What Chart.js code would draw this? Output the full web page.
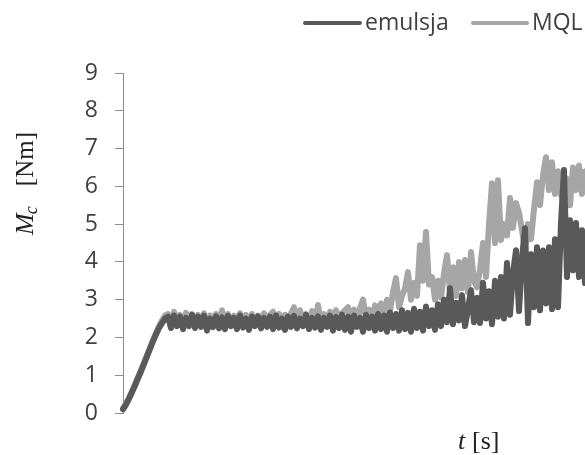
<!DOCTYPE html>
<html>
<head>
<meta charset="utf-8">
<script src="https://cdn.jsdelivr.net/npm/chart.js@4/dist/chart.umd.min.js"></script>
<style>
    html, body { margin: 0; padding: 0; background: #ffffff; }
    #grafico { display: block; }
</style>
</head>
<body>
<canvas id="grafico" width="585" height="455"></canvas>
<script>

// torque values, one sample every ~3 px of the plot
const emulsja = [
    0.1, 0.22, 0.38, 0.55, 0.73, 0.92, 1.1, 1.3, 1.5, 1.7,
    1.9, 2.08, 2.25, 2.38, 2.5,
    2.55, 2.25, 2.58, 2.3, 2.55, 2.22, 2.52, 2.3, 2.6, 2.25,
    2.55, 2.28, 2.58, 2.18, 2.5, 2.27, 2.56, 2.24, 2.53, 2.22,
    2.57, 2.3, 2.52, 2.22, 2.58, 2.26, 2.5, 2.2, 2.55, 2.3,
    2.56, 2.24, 2.52, 2.28, 2.55, 2.22, 2.58, 2.26, 2.5, 2.2,
    2.55, 2.28, 2.57, 2.24, 2.5, 2.3, 2.6, 2.22, 2.52, 2.26,
    2.56, 2.2, 2.52, 2.28, 2.58, 2.18, 2.54, 2.25, 2.6, 2.2,
    2.55, 2.15, 2.58, 2.28, 2.52, 2.15, 2.6, 2.25, 2.55, 2.18,
    2.62, 2.22, 2.58, 2.15, 2.66, 2.25, 2.62, 2.18, 2.72, 2.22,
    2.65, 2.15, 2.76, 2.25, 2.68, 2.18, 2.82, 2.3, 2.72, 2.2,
    2.88, 2.3, 3.0, 2.4, 3.3, 2.35, 2.92, 2.45, 3.12, 2.3,
    2.75, 3.25, 2.4, 3.05, 2.38, 3.45, 2.5, 3.22, 2.35, 3.5,
    2.55, 3.6, 2.5, 3.97, 2.6, 3.7, 4.31, 2.7, 4.1, 4.89,
    2.38, 4.2, 2.8, 4.39, 2.72, 4.3, 2.9, 4.39, 2.75, 4.6,
    2.8, 5.03, 6.43, 3.6, 5.1, 3.78, 5.03, 3.6, 4.84, 3.44
];

const mql = [
    0.12, 0.25, 0.4, 0.58, 0.76, 0.95, 1.14, 1.33, 1.53, 1.73,
    1.93, 2.12, 2.3, 2.45, 2.58,
    2.62, 2.3, 2.68, 2.35, 2.6, 2.28, 2.65, 2.35, 2.62, 2.3,
    2.6, 2.32, 2.64, 2.25, 2.58, 2.3, 2.62, 2.28, 2.72, 2.3,
    2.62, 2.32, 2.58, 2.25, 2.64, 2.3, 2.6, 2.26, 2.62, 2.35,
    2.58, 2.3, 2.64, 2.32, 2.6, 2.68, 2.3, 2.62, 2.28, 2.6,
    2.3, 2.64, 2.8, 2.3, 2.72, 2.35, 2.62, 2.3, 2.7, 2.35,
    2.86, 2.35, 2.62, 2.3, 2.68, 2.4, 2.72, 2.35, 2.65, 2.72,
    2.8, 2.4, 2.74, 2.35, 2.78, 3.0, 2.5, 2.74, 2.45, 2.85,
    2.6, 2.9, 2.55, 3.0, 2.7, 3.2, 3.57, 2.8, 3.1, 3.3,
    3.73, 3.0, 3.45, 3.1, 4.44, 3.5, 4.79, 3.4, 3.6, 3.0,
    3.5, 3.05, 3.7, 4.18, 3.2, 3.86, 3.1, 4.0, 3.3, 4.05,
    3.2, 4.26, 3.5, 3.33, 3.8, 4.5, 3.6, 5.0, 6.08, 4.5,
    6.16, 4.58, 5.0, 4.7, 5.69, 4.9, 5.56, 5.3, 4.84, 4.3,
    5.0, 4.6, 5.4, 6.11, 5.5, 6.3, 6.77, 5.9, 6.64, 5.8,
    6.4, 5.77, 5.6, 6.2, 5.5, 6.5, 5.9, 6.55, 5.8, 6.4
];

const series = ["emulsja", "MQL"];
const ticksY = [0, 1, 2, 3, 4, 5, 6, 7, 8, 9];

const colorOscuro = "#595959";
const colorClaro = "#a6a6a6";
const fuenteSans = "'Open Sans', sans-serif";
const fuenteSerif = "'Liberation Serif', 'Times New Roman', serif";

// x axis has no labels, samples are just numbered
const muestras = emulsja.map(function (v, i) { return i; });

// legend and axis titles drawn by hand (italic symbols, fixed spots)
const textosExtra = {
    id: "textosExtra",
    afterDraw: function (chart) {
        const ctx = chart.ctx;
        ctx.save();

        // legend
        const items = [
            { texto: series[0], color: colorOscuro, x1: 305, x2: 360, tx: 365 },
            { texto: series[1], color: colorClaro, x1: 473, x2: 527, tx: 532 }
        ];
        ctx.lineCap = "round";
        ctx.lineWidth = 4;
        ctx.font = "23px " + fuenteSans;
        ctx.textBaseline = "alphabetic";
        ctx.textAlign = "left";
        items.forEach(function (it) {
            ctx.strokeStyle = it.color;
            ctx.beginPath();
            ctx.moveTo(it.x1, 23);
            ctx.lineTo(it.x2, 23);
            ctx.stroke();
            ctx.fillStyle = "#404040";
            ctx.fillText(it.texto, it.tx, 30);
        });

        // y title: M_c [Nm]
        ctx.fillStyle = "#222222";
        ctx.translate(33, 235);
        ctx.rotate(-Math.PI / 2);
        ctx.font = "italic 26px " + fuenteSerif;
        ctx.fillText("M", 0, 0);
        let w = ctx.measureText("M").width;
        ctx.font = "italic 18px " + fuenteSerif;
        ctx.fillText("c", w - 1, 4);
        ctx.font = "25px " + fuenteSerif;
        ctx.textAlign = "right";
        ctx.fillText("[Nm]", 103, 0);
        ctx.setTransform(1, 0, 0, 1, 0, 0);

        // x title: t [s]
        ctx.textAlign = "left";
        ctx.font = "italic 26px " + fuenteSerif;
        ctx.fillText("t", 458, 449);
        ctx.font = "26px " + fuenteSerif;
        ctx.fillText("[s]", 472, 449);

        ctx.restore();
    }
};

new Chart(document.getElementById("grafico"), {
    type: "line",
    plugins: [textosExtra],
    data: {
        labels: muestras,
        datasets: [
            {
                label: series[0],
                data: emulsja,
                borderColor: colorOscuro,
                borderWidth: 6,
                pointRadius: 0,
                tension: 0,
                borderJoinStyle: "round",
                borderCapStyle: "round"
            },
            {
                label: series[1],
                data: mql,
                borderColor: colorClaro,
                borderWidth: 6,
                pointRadius: 0,
                tension: 0,
                borderJoinStyle: "round",
                borderCapStyle: "round"
            }
        ]
    },
    options: {
        responsive: false,
        animation: false,
        devicePixelRatio: 1,
        layout: {
            padding: { top: 73, right: 0, bottom: 42, left: 0 }
        },
        plugins: {
            legend: { display: false },
            tooltip: { enabled: false }
        },
        scales: {
            x: {
                display: false,
                offset: false
            },
            y: {
                min: ticksY[0],
                max: ticksY[ticksY.length - 1],
                afterFit: function (scale) { scale.width = 123; },
                afterBuildTicks: function (scale) {
                    scale.ticks = ticksY.map(function (v) { return { value: v }; });
                },
                border: { display: true, color: "#8c8c8c", width: 1 },
                grid: {
                    drawOnChartArea: false,
                    drawTicks: true,
                    tickLength: 8,
                    color: "#8c8c8c"
                },
                ticks: {
                    padding: 17,
                    color: "#404040",
                    font: { family: fuenteSans, size: 23 }
                }
            }
        }
    }
});
</script>
</body>
</html>
